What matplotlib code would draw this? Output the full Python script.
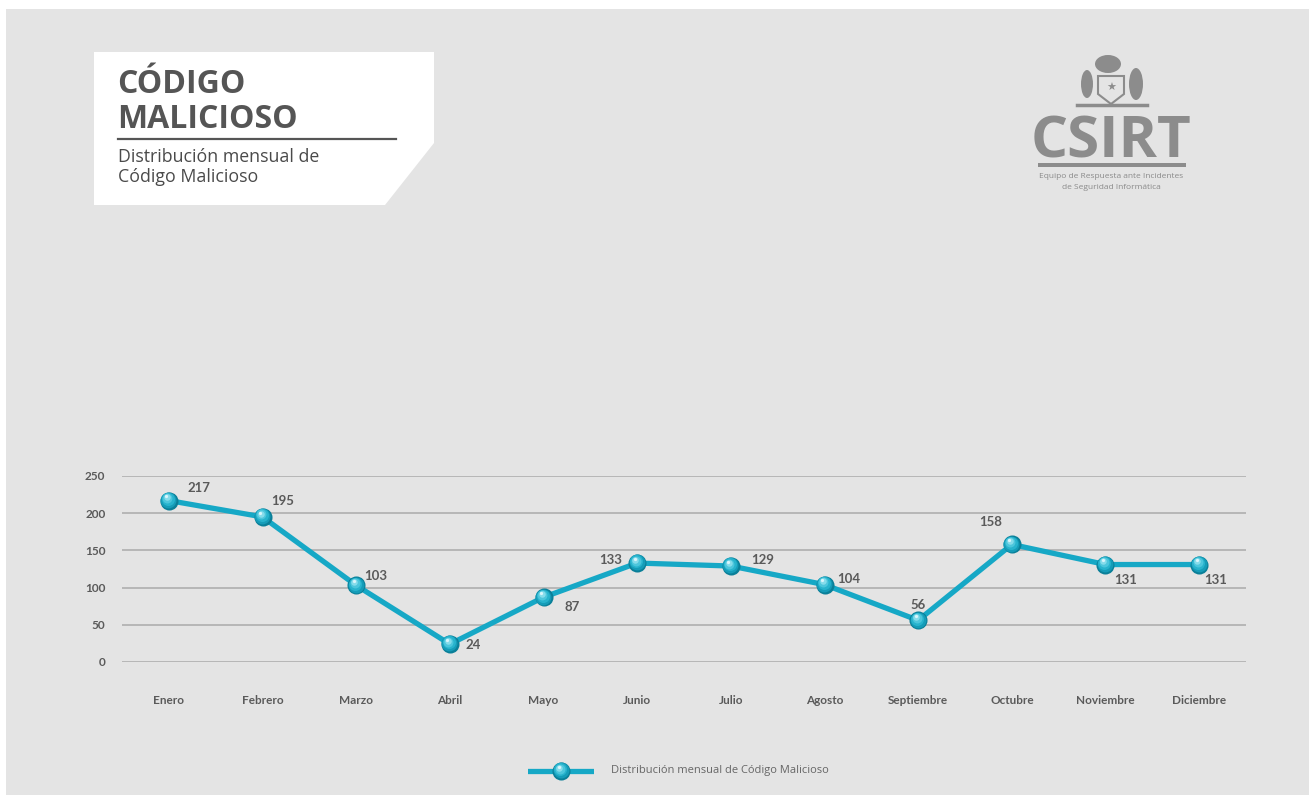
import matplotlib
matplotlib.use("Agg")
import matplotlib.pyplot as plt
from matplotlib.patches import Polygon, Rectangle, Ellipse
from matplotlib.transforms import offset_copy
from matplotlib.lines import Line2D

months = ["Enero", "Febrero", "Marzo", "Abril", "Mayo", "Junio", "Julio",
          "Agosto", "Septiembre", "Octubre", "Noviembre", "Diciembre"]
counts = [217, 195, 103, 24, 87, 133, 129, 104, 56, 158, 131, 131]
y_ticks = [0, 50, 100, 150, 200, 250]

# where each value label sits relative to its point (pixels)
label_offsets = [(30, 13), (20, 16), (20, 9), (23, -1), (29, -10), (-27, 3),
                 (32, 6), (24, 6), (0, 15), (-21, 22), (20, -15), (16, -15)]

W, H = 1309, 795
BG = "#e4e4e4"
LINE = "#16a8c6"
TXT = "#5a5a5a"


def fx(px):
    return px / W


def fy(py):
    return 1 - py / H


fig = plt.figure(figsize=(W / 100, H / 100), dpi=100, facecolor="white")
fig.patches.append(Rectangle((fx(6), 0), 1, fy(9), transform=fig.transFigure,
                             facecolor=BG, edgecolor="none", zorder=-10))

# title card with the clipped corner
card = [(94, 52), (434, 52), (434, 143), (385, 205), (94, 205)]
fig.patches.append(Polygon([(fx(x), fy(y)) for x, y in card], closed=True,
                           transform=fig.transFigure, facecolor="white",
                           edgecolor="none", zorder=-5))
fig.text(fx(117), fy(93), "CÓDIGO", fontsize=23, fontweight="bold",
         family="Open Sans", color="#555555", va="baseline")
fig.text(fx(117), fy(128), "MALICIOSO", fontsize=23, fontweight="bold",
         family="Open Sans", color="#555555", va="baseline")
fig.lines.append(Line2D([fx(118), fx(396)], [fy(139), fy(139)],
                        transform=fig.transFigure, color="#555555", lw=1.6))
fig.text(fx(118), fy(162), "Distribución mensual de", fontsize=12.8,
         family="Open Sans", color="#4a4a4a", va="baseline")
fig.text(fx(118), fy(182), "Código Malicioso", fontsize=12.8,
         family="Open Sans", color="#4a4a4a", va="baseline")

# CSIRT logo
LOGO = "#8c8c8c"
shield = [(1098, 76), (1124, 76), (1124, 94), (1111, 104), (1098, 94)]
fig.patches.append(Polygon([(fx(x), fy(y)) for x, y in shield], closed=True,
                           transform=fig.transFigure, facecolor="none",
                           edgecolor=LOGO, lw=1.5))
fig.patches.append(Ellipse((fx(1108), fy(64)), fx(26), 18 / H,
                           transform=fig.transFigure, facecolor=LOGO,
                           edgecolor="none"))
fig.patches.append(Ellipse((fx(1087), fy(84)), fx(12), 28 / H,
                           transform=fig.transFigure, facecolor=LOGO,
                           edgecolor="none"))
fig.patches.append(Ellipse((fx(1136), fy(84)), fx(14), 32 / H,
                           transform=fig.transFigure, facecolor=LOGO,
                           edgecolor="none"))
fig.text(fx(1111), fy(88), "★", fontsize=8, color=LOGO, ha="center",
         va="center", family="DejaVu Sans")
fig.lines.append(Line2D([fx(1077), fx(1147)], [fy(105), fy(105)],
                        transform=fig.transFigure, color=LOGO, lw=2.5))
fig.text(fx(1111), fy(157), "CSIRT", fontsize=42, fontweight="bold",
         family="Open Sans", color=LOGO, ha="center", va="baseline")
fig.patches.append(Rectangle((fx(1038), fy(167)), fx(148), 4 / H,
                             transform=fig.transFigure, facecolor=LOGO,
                             edgecolor="none"))
fig.text(fx(1111), fy(178), "Equipo de Respuesta ante Incidentes",
         fontsize=6, family="Open Sans", color="#8a8a8a", ha="center",
         va="baseline")
fig.text(fx(1111), fy(189), "de Seguridad Informática", fontsize=6,
         family="Open Sans", color="#8a8a8a", ha="center", va="baseline")

# chart
ax = fig.add_axes([fx(122), fy(662), fx(1246) - fx(122), fy(476) - fy(662)])
ax.set_facecolor("none")
x = list(range(len(months)))
ax.set_xlim(-0.5, len(months) - 0.5)
ax.set_ylim(0, 250)
ax.set_yticks(y_ticks)
ax.set_xticks(x)
ax.set_xticklabels(months)
for t in y_ticks:
    ax.axhline(t, color="#b6b6b6", lw=1.4, zorder=0)
for s in ax.spines.values():
    s.set_visible(False)
ax.tick_params(axis="both", length=0, colors=TXT, labelsize=8.5)
ax.tick_params(axis="x", pad=24)
ax.tick_params(axis="y", pad=12)
for lab in ax.get_xticklabels() + ax.get_yticklabels():
    lab.set_fontweight("bold")
    lab.set_family("Lato")

ax.plot(x, counts, color=LINE, lw=3.8, zorder=2, solid_joinstyle="round")


def sphere(axis, xs, ys, size, z):
    # layered circles shifted up-left give the glossy ball look
    shades = ["#0a7f98", "#159cb8", "#27b3cd", "#4cc6dc", "#86dceb", "#d8f5fb"]
    shrink = [1.0, 0.88, 0.72, 0.55, 0.36, 0.18]
    shift = [0, 0.5, 1.2, 1.8, 2.4, 3.0]
    for c, k, d in zip(shades, shrink, shift):
        tr = offset_copy(axis.transData, fig=fig, x=-d * 0.6, y=d,
                         units="points")
        axis.plot(xs, ys, ls="none", marker="o", ms=size * k, mfc=c,
                  mec="none", transform=tr, zorder=z, clip_on=False)


sphere(ax, x, counts, 13, 3)

for xi, v, (dx, dy) in zip(x, counts, label_offsets):
    ax.annotate(str(v), (xi, v), xytext=(dx, dy), textcoords="offset pixels",
                ha="center", va="center", fontsize=9.5, fontweight="bold",
                family="Lato", color=TXT, zorder=4)

# legend drawn in its own small axes
lax = fig.add_axes([fx(528), fy(781), fx(594) - fx(528), 20 / H])
lax.set_xlim(0, 1)
lax.set_ylim(0, 1)
lax.axis("off")
lax.plot([0, 1], [0.5, 0.5], color=LINE, lw=3.8)
sphere(lax, [0.5], [0.5], 13, 3)
fig.text(fx(611), fy(771), "Distribución mensual de Código Malicioso",
         fontsize=8, family="Open Sans", color="#666666", va="center")

fig.savefig("out.png", dpi=100, facecolor=fig.get_facecolor())
